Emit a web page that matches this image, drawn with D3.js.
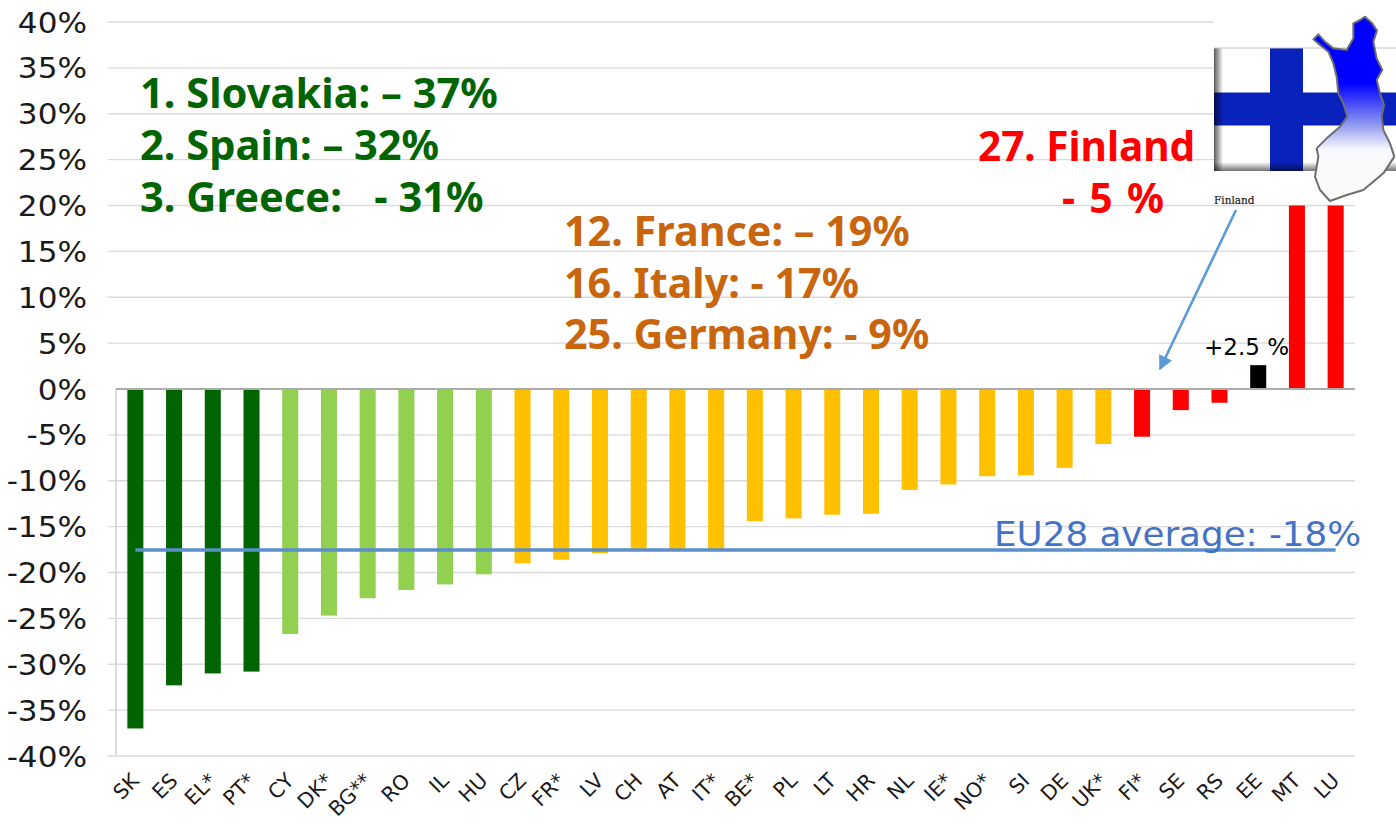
<!DOCTYPE html>
<html><head><meta charset="utf-8">
<script src="https://cdn.jsdelivr.net/npm/d3@7"></script>
<style>html,body{margin:0;padding:0;background:#fff}svg{display:block}</style>
</head><body><svg id="c" width="1396" height="824"></svg>
<script>
const countries=["SK","ES","EL*","PT*","CY","DK*","BG**","RO","IL","HU","CZ","FR*","LV","CH","AT","IT*","BE*","PL","LT","HR","NL","IE*","NO*","SI","DE","UK*","FI*","SE","RS","EE","MT","LU"];
const values=[-37.0,-32.3,-31.0,-30.8,-26.7,-24.7,-22.8,-21.9,-21.3,-20.2,-19.0,-18.6,-17.9,-17.5,-17.5,-17.5,-14.4,-14.1,-13.7,-13.6,-11.0,-10.4,-9.5,-9.4,-8.6,-6.0,-5.2,-2.3,-1.5,2.6,20,20];
const groups=["dg","dg","dg","dg","lg","lg","lg","lg","lg","lg","y","y","y","y","y","y","y","y","y","y","y","y","y","y","y","y","r","r","r","k","r","r"];
const groupColors={dg:"#006400",lg:"#92D050",y:"#FFC000",r:"#FF0000",k:"#000000"};
const yTicks=d3.range(-40,41,5);
const average=-17.6;
const notesGreen=["1. Slovakia: – 37%","2. Spain: – 32%","3. Greece:   - 31%"];
const notesOrange=["12. France: – 19%","16. Italy: - 17%","25. Germany: - 9%"];
const mapOutline=[[645,50],[665,68],[681,92],[670,125],[680,175],[697,210],[680,240],[690,280],[702,315],[695,350],[700,390],[720,430],[733,470],[700,520],[640,570],[590,585],[540,603],[510,570],[495,530],[505,470],[500,445],[530,415],[570,380],[592,350],[580,310],[565,280],[560,230],[550,190],[535,155],[510,135],[490,118],[505,103],[525,125],[550,145],[590,150],[610,115],[610,70],[630,60]];

const svg=d3.select("#c");
const defs=svg.append("defs");
const y=d3.scaleLinear().domain([-40,40]).range([756,22]);
const x=d3.scaleBand().domain(countries).range([116,1355]).paddingInner(0.586).paddingOuter(0.293);
const tickFont="'DejaVu Sans',Verdana,sans-serif";
const boldFont="'Noto Sans','Open Sans',sans-serif";

svg.append("g").selectAll("line").data(yTicks.filter(d=>d!==0)).join("line")
 .attr("x1",108).attr("x2",1355).attr("y1",d=>y(d)).attr("y2",d=>y(d))
 .attr("stroke","#DADADA").attr("stroke-width",1.3);
svg.append("line").attr("x1",116).attr("x2",116).attr("y1",y(0)).attr("y2",y(-40)).attr("stroke","#D0D0D0").attr("stroke-width",1.5);

svg.append("g").selectAll("text").data(yTicks).join("text")
 .attr("x",0).attr("y",0).attr("text-anchor","end")
 .attr("transform",d=>`translate(87,${y(d)+10.5}) scale(1.08,1)`)
 .attr("font-family",tickFont).attr("font-size",28.8).attr("fill","#1a1a1a").text(d=>d+"%");

svg.append("g").selectAll("rect").data(countries).join("rect")
 .attr("x",d=>x(d)).attr("width",x.bandwidth())
 .attr("y",(d,i)=>y(Math.max(values[i],0)))
 .attr("height",(d,i)=>Math.abs(y(values[i])-y(0)))
 .attr("fill",(d,i)=>groupColors[groups[i]]);

svg.append("line").attr("x1",116).attr("x2",1355).attr("y1",y(0)).attr("y2",y(0)).attr("stroke","#ABABAB").attr("stroke-width",2);

svg.append("g").selectAll("text").data(countries).join("text")
 .attr("text-anchor","end")
 .attr("transform",d=>`translate(${x(d)+x.bandwidth()/2+5},${782}) rotate(-45)`)
 .attr("font-family",tickFont).attr("font-size",20.5).attr("fill","#1a1a1a").text(d=>d);

svg.append("line").attr("x1",x("SK")+x.bandwidth()/2).attr("x2",x("LU")+x.bandwidth()/2).attr("y1",y(average)-0.5).attr("y2",y(average)-0.5).attr("stroke","#5B8FCB").attr("stroke-width",3.5);
svg.append("text").attr("transform","translate(994,546) scale(1.05,1)").attr("font-family",tickFont).attr("font-size",34).attr("fill","#4472C4").text("EU28 average: -18%");

svg.append("g").selectAll("text").data(notesGreen).join("text").attr("x",140).attr("y",(d,i)=>108+i*52)
 .attr("font-family",boldFont).attr("font-weight",700).attr("font-size",41.6).attr("fill","#006400").style("white-space","pre").text(d=>d);
svg.append("g").selectAll("text").data(notesOrange).join("text").attr("x",564).attr("y",(d,i)=>246+i*51.5)
 .attr("font-family",boldFont).attr("font-weight",700).attr("font-size",41.3).attr("fill","#C9650D").style("white-space","pre").text(d=>d);

const grad=defs.append("linearGradient").attr("id","mapG").attr("x1",0).attr("x2",0).attr("y1",0).attr("y2",1);
[[0,"#0000FF"],[0.36,"#0000FF"],[0.58,"#8C94F2"],[0.72,"#F8F8FC"],[1,"#FBFBF8"]].forEach(s=>grad.append("stop").attr("offset",s[0]).attr("stop-color",s[1]));
const sh=defs.append("linearGradient").attr("id","edge").attr("x1",0).attr("x2",1);
sh.append("stop").attr("offset",0).attr("stop-color","#000").attr("stop-opacity",0.65);
sh.append("stop").attr("offset",1).attr("stop-color","#000").attr("stop-opacity",0);
const shB=defs.append("linearGradient").attr("id","edgeB").attr("x1",0).attr("x2",0).attr("y1",1).attr("y2",0);
shB.append("stop").attr("offset",0).attr("stop-color","#000").attr("stop-opacity",0.55);
shB.append("stop").attr("offset",1).attr("stop-color","#000").attr("stop-opacity",0);
const f=svg.append("g");
f.append("rect").attr("x",1214).attr("y",0).attr("width",182).attr("height",204).attr("fill","#fff");
f.append("rect").attr("x",1270).attr("y",48).attr("width",33).attr("height",123).attr("fill","#0A22BC");
f.append("rect").attr("x",1214).attr("y",92.5).attr("width",182).attr("height",33).attr("fill","#0A22BC");
f.append("rect").attr("x",1214).attr("y",48).attr("width",9).attr("height",123).attr("fill","url(#edge)");
f.append("rect").attr("x",1214).attr("y",162).attr("width",182).attr("height",9).attr("fill","url(#edgeB)");
f.append("line").attr("x1",1214).attr("x2",1396).attr("y1",48).attr("y2",48).attr("stroke","#C4C4C4").attr("stroke-width",1);
const mapPts=mapOutline.map(p=>[1150+p[0]/3,p[1]/3]);
f.append("path").attr("d",d3.line().curve(d3.curveLinearClosed)(mapPts)).attr("fill","url(#mapG)").attr("stroke","#6E6E6E").attr("stroke-width",2).attr("stroke-linejoin","round");
f.append("text").attr("x",1214).attr("y",204).attr("font-family","'DejaVu Serif',serif").attr("font-size",10.5).attr("stroke","#222").attr("stroke-width",0.2).attr("fill","#222").text("Finland");

svg.append("text").attr("x",978).attr("y",161).attr("font-family",boldFont).attr("font-weight",700).attr("font-size",40.5).attr("fill","#FF0000").text("27. Finland");
svg.append("text").attr("x",1062).attr("y",213).attr("font-family",boldFont).attr("font-weight",700).attr("font-size",41).attr("word-spacing",3.5).attr("fill","#FF0000").text("- 5 %");

const mk=defs.append("marker").attr("id","ah").attr("viewBox","0 0 10 10").attr("refX",9).attr("refY",5).attr("markerWidth",6).attr("markerHeight",5.5).attr("markerUnits","strokeWidth").attr("orient","auto");
mk.append("path").attr("d","M0,0L10,5L0,10Z").attr("fill","#5B9BD5");
svg.append("line").attr("x1",1236).attr("y1",210).attr("x2",1160).attr("y2",369).attr("stroke","#5B9BD5").attr("stroke-width",2.6).attr("marker-end","url(#ah)");

svg.append("text").attr("x",1204).attr("y",355).attr("font-family",tickFont).attr("font-size",23).attr("fill","#000").text("+2.5 %");
</script></body></html>
